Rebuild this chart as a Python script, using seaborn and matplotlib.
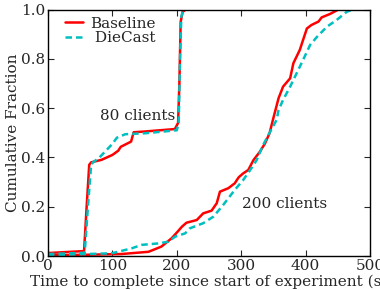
import matplotlib
matplotlib.use("Agg")
import matplotlib.pyplot as plt
import seaborn as sns
import pandas as pd

# ---- data ----
base80_x = [0, 56, 60, 64, 67, 83, 100, 109, 113, 129, 133, 150, 197, 202, 204, 206, 209, 214]
base80_y = [0.012, 0.02, 0.2, 0.37, 0.38, 0.39, 0.41, 0.427, 0.443, 0.464, 0.502, 0.505, 0.515, 0.54, 0.7, 0.95, 0.99, 1.0]

die80_x = [0, 57, 62, 67, 70, 80, 91, 100, 107, 120, 151, 200, 203, 205, 207, 210]
die80_y = [0.008, 0.013, 0.2, 0.37, 0.38, 0.40, 0.43, 0.455, 0.48, 0.494, 0.498, 0.51, 0.54, 0.8, 0.97, 1.0]

base200_x = [0, 60, 114, 156, 176, 192, 200, 208, 215, 231, 241, 254, 262, 267, 280, 290, 296, 303,
             311, 319, 329, 337, 344, 350, 358, 365, 376, 381, 391, 396, 402, 409, 420, 425, 438, 451]
base200_y = [0.003, 0.005, 0.008, 0.017, 0.038, 0.072, 0.095, 0.119, 0.135, 0.146, 0.173, 0.184, 0.214,
             0.261, 0.275, 0.295, 0.319, 0.335, 0.349, 0.389, 0.423, 0.457, 0.498, 0.56, 0.64, 0.687,
             0.721, 0.782, 0.836, 0.876, 0.923, 0.937, 0.951, 0.968, 0.982, 1.0]

die200_x = [0, 99, 130, 145, 171, 187, 197, 213, 220, 241, 257, 272, 290, 303, 314, 324, 334, 342,
            355, 358, 365, 376, 386, 396, 407, 417, 433, 448, 464, 474]
die200_y = [0.003, 0.011, 0.031, 0.045, 0.051, 0.058, 0.078, 0.092, 0.112, 0.133, 0.16, 0.207, 0.268,
            0.308, 0.349, 0.389, 0.45, 0.49, 0.552, 0.592, 0.633, 0.687, 0.741, 0.795, 0.856, 0.887,
            0.93, 0.957, 0.991, 1.0]

x_ticks = [0, 100, 200, 300, 400, 500]
y_ticks = [0.0, 0.2, 0.4, 0.6, 0.8, 1.0]

sns.set_style("ticks")
plt.rcParams['font.family'] = ['DejaVu Serif']
plt.rcParams['font.size'] = 11
plt.rcParams['xtick.direction'] = 'in'
plt.rcParams['ytick.direction'] = 'in'

fig = plt.figure(figsize=(3.8, 2.9), dpi=100)
ax = fig.add_axes([48/380, 1-256/290, (370-48)/380, (256-9.5)/290])

red = '#ff0000'
cyan = '#00bfbf'
lw = 1.8
dash = (0, (2.6, 1.6))

sns.lineplot(x=base80_x, y=base80_y, ax=ax, color=red, lw=lw, estimator=None, sort=False, label='Baseline')
sns.lineplot(x=die80_x, y=die80_y, ax=ax, color=cyan, lw=lw, estimator=None, sort=False,
             linestyle=dash, label=' DieCast')
sns.lineplot(x=base200_x, y=base200_y, ax=ax, color=red, lw=lw, estimator=None, sort=False)
sns.lineplot(x=die200_x, y=die200_y, ax=ax, color=cyan, lw=lw, estimator=None, sort=False,
             linestyle=dash)

ax.set_xlim(0, 500)
ax.set_ylim(0, 1.0)
ax.set_xticks(x_ticks)
ax.set_yticks(y_ticks)
ax.set_xticklabels([str(t) for t in x_ticks])
ax.set_yticklabels([f"{t:.1f}" for t in y_ticks])
ax.tick_params(top=True, right=True, length=4, width=0.8, labelsize=11, pad=2)
for s in ax.spines.values():
    s.set_visible(True)
    s.set_linewidth(1.0)
    s.set_color('black')

ax.set_xlabel("Time to complete since start of experiment (s)", fontsize=11, labelpad=1)
ax.set_ylabel("Cumulative Fraction", fontsize=11, labelpad=0.5)

ax.text(81, 0.568, "80 clients", fontsize=11, ha='left', va='center')
ax.text(301, 0.211, "200 clients", fontsize=11, ha='left', va='center')

ax.legend(loc='upper left', bbox_to_anchor=(0.034, 0.996), frameon=False, fontsize=11,
          handlelength=1.2, borderaxespad=0.0, labelspacing=0.05, handletextpad=0.45)

fig.savefig("out.png", dpi=100)
